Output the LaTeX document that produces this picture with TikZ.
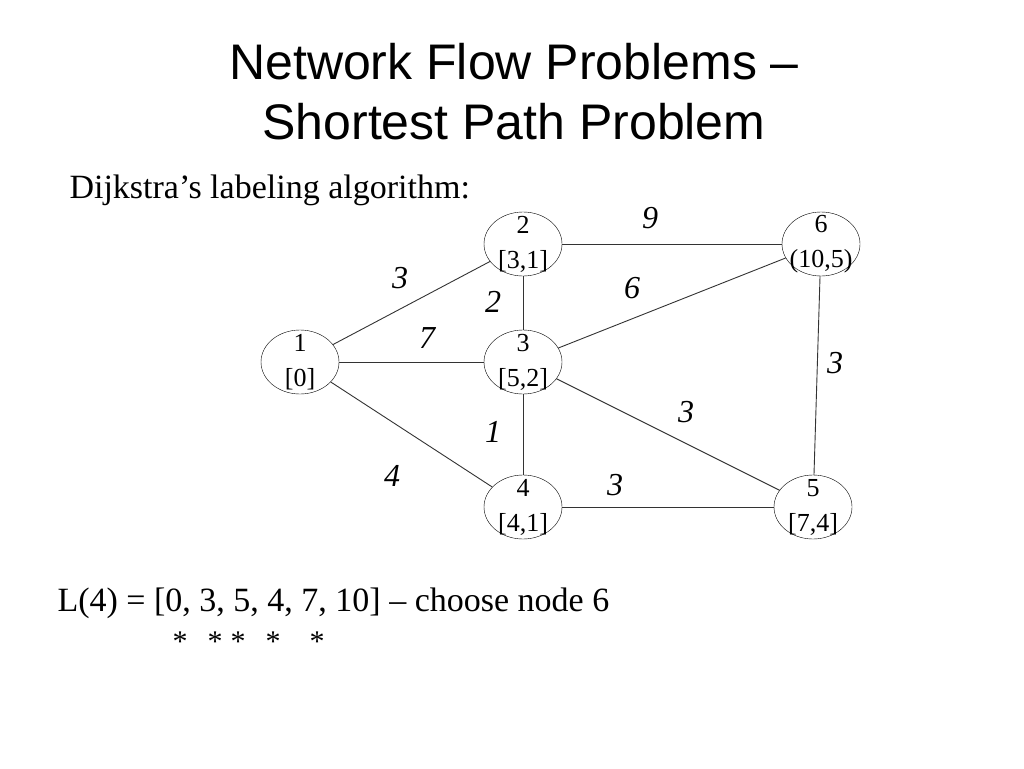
\documentclass[tikz,border=0pt]{standalone}
\usepackage{fontspec}
\setmainfont{Liberation Serif}
\newfontfamily\titlefont{Liberation Sans}
\usetikzlibrary{shapes.geometric}

\begin{document}
\begin{tikzpicture}[x=1pt,y=-1pt,
	vertex/.style={draw,ellipse,inner xsep=-10pt,inner ysep=-14pt,outer sep=0,minimum width=78,minimum height=64,align=center,font=\fontsize{26}{35}\selectfont},
	edge/.style={draw=black!80,line width=0.9pt},
	weight/.style={font=\fontsize{32}{32}\selectfont\itshape}]
	\useasboundingbox (0,0) rectangle (1024,768);
	\node[font=\titlefont\fontsize{50}{60}\selectfont,align=center] (title) at (514,92) {Network Flow Problems –\\Shortest Path Problem};
	\node[font=\fontsize{34}{34}\selectfont,anchor=west] (algo) at (66,190) {Dijkstra’s labeling algorithm:};
	\node[vertex] (1) at (300,362) {1\\{[0]}};
	\node[vertex] (2) at (523,244) {2\\{[3,1]}};
	\node[vertex] (3) at (523,362) {3\\{[5,2]}};
	\node[vertex] (4) at (523,507) {4\\{[4,1]}};
	\node[vertex] (5) at (813,507) {5\\{[7,4]}};
	\node[vertex] (6) at (821,244) {6\\(10,5)};
	\draw[edge] (1) -- (2);
	\draw[edge] (1) -- (3);
	\draw[edge] (1) -- (4);
	\draw[edge] (2) -- (3);
	\draw[edge] (2) -- (6);
	\draw[edge] (3) -- (6);
	\draw[edge] (3) -- (5);
	\draw[edge] (3) -- (4);
	\draw[edge] (4) -- (5);
	\draw[edge] (6) -- (5);
	\node[weight] (w26) at (650,218) {9};
	\node[weight] (w12) at (400,278) {3};
	\node[weight] (w23) at (493,302) {2};
	\node[weight] (w36) at (632,288) {6};
	\node[weight] (w13) at (427,338) {7};
	\node[weight] (w65) at (835,363) {3};
	\node[weight] (w35) at (686,412) {3};
	\node[weight] (w34) at (493,432) {1};
	\node[weight] (w14) at (392,476) {4};
	\node[weight] (w45) at (615,485) {3};
	\node[font=\fontsize{34}{34}\selectfont,anchor=west] (lval) at (54,603) {L(4) = [0, 3, 5, 4, 7, 10] – choose node 6};
	\foreach \x [count=\i] in {180,215,238,273,317}
		\node[font=\fontsize{30}{30}\selectfont] (star\i) at (\x,642) {*};
\end{tikzpicture}
\end{document}
